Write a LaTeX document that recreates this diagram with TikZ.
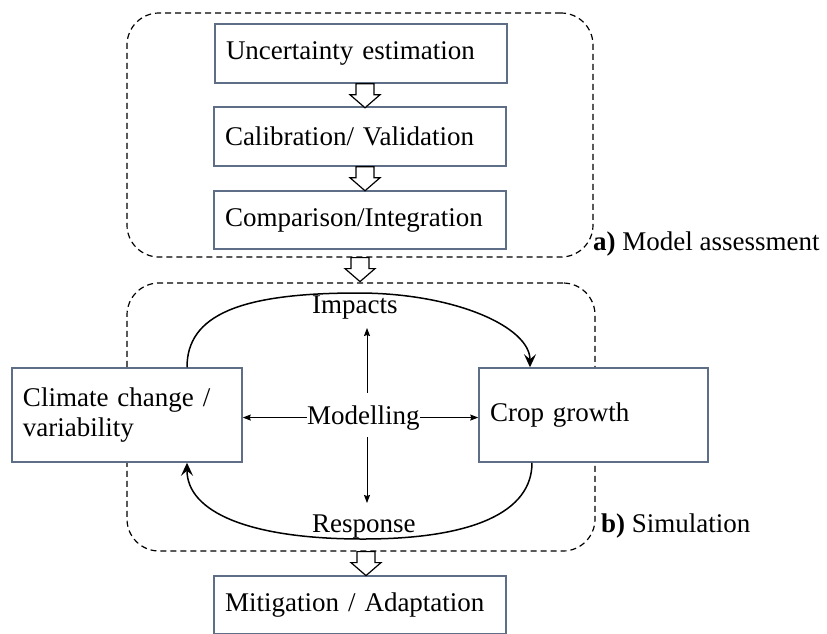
\documentclass[tikz,border=0pt]{standalone}
\usepackage{fontspec}
\setmainfont{Liberation Serif}
\usetikzlibrary{arrows.meta}
\definecolor{boxblue}{RGB}{95,110,135}
\newcommand{\hollowarrow}[1]{\draw[hollowarr] #1 ++(-9,0) -- ++(0,11) -- ++(-6,0) -- ++(15,13) -- ++(15,-13) -- ++(-6,0) -- ++(0,-11) -- cycle;}
\begin{document}
\begin{tikzpicture}[x=1pt,y=-1pt,
  every node/.style={font=\fontsize{27}{30}\selectfont},
  box/.style={draw=boxblue, fill=white, line width=1.5pt, inner xsep=11pt, inner ysep=0pt, align=left},
  dbox/.style={draw=black, dash pattern=on 6pt off 4pt, line width=1.2pt, rounded corners=32pt, inner sep=0pt},
  lbl/.style={inner sep=0pt},
  hollowarr/.style={draw=black, fill=white, line width=1.2pt, line join=miter},
  thinarr/.style={line width=0.9pt, -{Stealth[length=8pt,width=6pt,inset=1pt]}},
  curvearr/.style={line width=1.5pt, -{Stealth[length=13pt,width=12pt,inset=5pt]}}
]
\fill[white] (0,0) rectangle (827,633);
\useasboundingbox (0,0) rectangle (827,633);

% dashed groups
\node[dbox, minimum width=466pt, minimum height=244pt] (ga) at (360,135) {};
\node[dbox, minimum width=468pt, minimum height=268pt] (gb) at (361,417) {};

% boxes
\node[box, text width=270pt, minimum height=59pt] (unc) at (361,53.5) {Uncertainty estimation};
\node[box, text width=270pt, minimum height=59pt] (cal) at (360,136.5) {Calibration/ Validation};
\node[box, text width=270pt, minimum height=58pt] (cmp) at (360,220) {Comparison/Integration};
\node[box, text width=208pt, minimum height=94pt] (clim) at (127,415) {Climate change /\\ variability};
\node[box, text width=207pt, minimum height=94pt] (crop) at (593.5,415) {Crop growth};
\node[box, text width=270pt, minimum height=58pt] (mit) at (360,605) {Mitigation / Adaptation};

% labels
\node[lbl, anchor=base west] (imp) at (312,313) {Impacts};
\node[lbl, anchor=base west] (mod) at (307,424) {Modelling};
\node[lbl, anchor=base west] (resp) at (312,532) {Response};
\node[lbl, anchor=base west] (la) at (593,250) {\textbf{a)} Model assessment};
\node[lbl, anchor=base west] (lb) at (601,532) {\textbf{b)} Simulation};

% hollow block arrows
\hollowarrow{([xshift=4pt]unc.south)}
\hollowarrow{([xshift=5pt]cal.south)}
\hollowarrow{(ga.south)}
\hollowarrow{([xshift=5pt]gb.south)}

% modelling arrows
\coordinate (upS) at (367,393);
\coordinate (upT) at (367,328);
\coordinate (dnS) at (367,437);
\coordinate (dnT) at (367,503);
\draw[thinarr] (mod.west) -- (mod.west -| clim.east);
\draw[thinarr] (mod.east) -- (mod.east -| crop.west);
\draw[thinarr] (upS) -- (upT);
\draw[thinarr] (dnS) -- (dnT);

% loops
\draw[curvearr] ([xshift=60pt]clim.north) .. controls (187,315) and (240,293) .. (358,293)
  .. controls (455,293) and (530,327) .. ([xshift=-63.5pt]crop.north);
\draw[curvearr] ([xshift=-61.5pt]crop.south) .. controls (532,512) and (473,539) .. (363,539)
  .. controls (249,539) and (187,512) .. ([xshift=60pt]clim.south);
\end{tikzpicture}
\end{document}
